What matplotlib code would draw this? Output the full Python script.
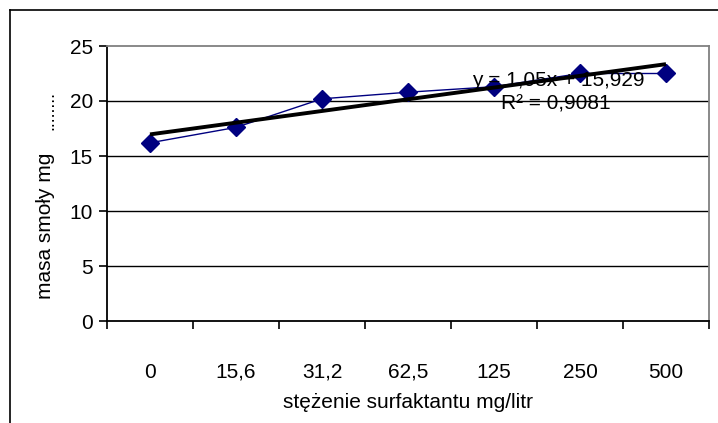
import numpy as np
import matplotlib.pyplot as plt
from matplotlib.lines import Line2D

plt.rcParams['font.family'] = ['Liberation Sans', 'DejaVu Sans']

# data
categories = ['0', '15,6', '31,2', '62,5', '125', '250', '500']
masa = [16.2, 17.6, 20.2, 20.8, 21.3, 22.5, 22.5]
y_ticks = [0, 5, 10, 15, 20, 25]

W, H = 718, 423
fs = 15
fig = plt.figure(figsize=(W / 100, H / 100), dpi=100)
ax = fig.add_axes([107 / W, 1 - 321 / H, (709 - 107) / W, (321 - 46) / H])

x = np.arange(1, len(categories) + 1)

# gridlines
for t in y_ticks[1:-1]:
    ax.axhline(t, color='black', lw=1.0, zorder=1)

# series
ax.plot(x, masa, color='#000080', lw=1.0, marker='D', markersize=9,
        markerfacecolor='#000080', markeredgecolor='#000080', zorder=3)

# linear trend
a, b = np.polyfit(x, masa, 1)
ax.plot(x, a * x + b, color='black', lw=2.8, zorder=4, solid_capstyle='butt')

fig.text(558 / W, 1 - 80 / H, 'y = 1,05x + 15,929', fontsize=fs,
         ha='center', va='center', zorder=5)
fig.text(556 / W, 1 - 104 / H, 'R² = 0,9081', fontsize=fs,
         ha='center', va='center', zorder=5)

# axes
ax.set_xlim(0.5, len(categories) + 0.5)
ax.set_ylim(0, 25)
ax.set_yticks(y_ticks)
ax.set_yticklabels([str(t) for t in y_ticks], fontsize=fs)
ax.set_xticks(np.arange(0.5, len(categories) + 1, 1.0))
ax.set_xticklabels([])
ax.set_xticks(x, minor=True)
ax.set_xticklabels(categories, minor=True, fontsize=fs)
ax.tick_params(axis='x', which='major', direction='out', length=6, width=1.2)
ax.tick_params(axis='x', which='minor', length=0, pad=30)
ax.tick_params(axis='y', direction='out', length=6, width=1.2, pad=4)

for s in ['left', 'bottom']:
    ax.spines[s].set_color('black')
    ax.spines[s].set_linewidth(1.3)
for s in ['top', 'right']:
    ax.spines[s].set_color('#808080')
    ax.spines[s].set_linewidth(1.3)

ax.set_xlabel('stężenie surfaktantu mg/litr', fontsize=fs, labelpad=8)
fig.text(46 / W, 1 - 226 / H, 'masa smoły mg', rotation=90, fontsize=fs,
         ha='center', va='center')
fig.text(49 / W, 1 - 110 / H, '........', rotation=90, fontsize=13,
         ha='center', va='center')

# outer chart frame (partly cut off)
fig.add_artist(Line2D([10 / W, 10 / W], [0, 1 - 10 / H], color='black',
                      lw=1.2, transform=fig.transFigure))
fig.add_artist(Line2D([10 / W, 1], [1 - 10 / H, 1 - 10 / H], color='black',
                      lw=1.2, transform=fig.transFigure))

fig.savefig('out.png', dpi=100)
